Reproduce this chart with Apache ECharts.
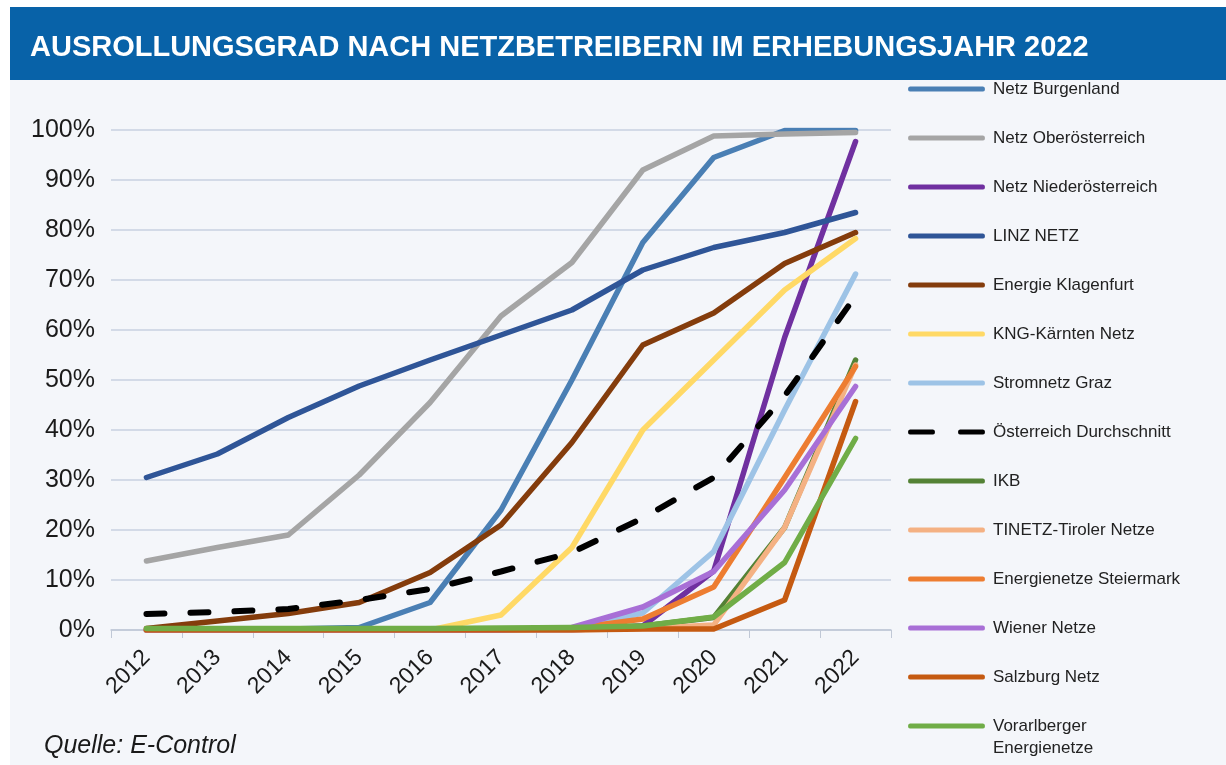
<!DOCTYPE html>
<html>
<head>
<meta charset="utf-8">
<script src="https://cdn.jsdelivr.net/npm/echarts@6/dist/echarts.min.js"></script>
<style>
html,body{margin:0;padding:0;background:#fff;}
#c{width:1226px;height:765px;}
</style>
</head>
<body>
<div id="c"></div>
<script>
const years = ['2012','2013','2014','2015','2016','2017','2018','2019','2020','2021','2022'];
const yTicks = [0,10,20,30,40,50,60,70,80,90,100];

const burgenland      = [0, 0, 0.2, 0.5, 5.5, 24, 50, 77.5, 94.5, 99.9, 99.9];
const oberoesterreich = [13.8, 16.5, 19, 31, 45.5, 62.8, 73.5, 92, 98.8, 99.2, 99.5];
const niederoest      = [0, 0, 0, 0, 0, 0, 0, 0.8, 11.8, 58.5, 97.7];
const linzNetz        = [30.5, 35.2, 42.5, 48.8, 54, 59, 64, 72, 76.5, 79.5, 83.5];
const klagenfurt      = [0.3, 1.8, 3.3, 5.5, 11.5, 21, 37.5, 57, 63.4, 73.3, 79.5];
const kng             = [0, 0, 0, 0, 0, 3, 16.5, 40, 54, 68, 78.3];
const graz            = [0, 0, 0, 0, 0, 0, 0.3, 3.4, 15.7, 44, 71.2];
const durchschnitt    = [3.2, 3.6, 4.2, 6, 8.2, 11.7, 15.5, 22.4, 30.5, 46.8, 66.8];
const ikb             = [0, 0, 0, 0, 0, 0, 0.3, 0.8, 2.5, 20.5, 54];
const tinetz          = [0, 0, 0, 0, 0, 0, 0, 0.3, 1, 20.5, 53];
const steiermark      = [0, 0, 0, 0, 0, 0, 0.3, 2.2, 8.6, 30.5, 52.7];
const wiener          = [0, 0, 0, 0, 0, 0, 0.5, 4.6, 11.7, 28, 48.7];
const salzburg        = [0, 0, 0, 0, 0, 0, 0, 0.2, 0.2, 6, 45.7];
const vorarlberg      = [0.3, 0.3, 0.3, 0.3, 0.3, 0.4, 0.5, 0.8, 2.6, 13.5, 38.3];

const seriesDefs = [
  ['Netz Burgenland', burgenland, '#4a7fb4', 'solid'],
  ['Netz Oberösterreich', oberoesterreich, '#a5a5a5', 'solid'],
  ['Netz Niederösterreich', niederoest, '#7030a0', 'solid'],
  ['LINZ NETZ', linzNetz, '#2f5597', 'solid'],
  ['Energie Klagenfurt', klagenfurt, '#843c0c', 'solid'],
  ['KNG-Kärnten Netz', kng, '#ffd966', 'solid'],
  ['Stromnetz Graz', graz, '#9dc3e6', 'solid'],
  ['Österreich Durchschnitt', durchschnitt, '#000000', 'dashed'],
  ['IKB', ikb, '#548235', 'solid'],
  ['TINETZ-Tiroler Netze', tinetz, '#f4b183', 'solid'],
  ['Energienetze Steiermark', steiermark, '#ed7d31', 'solid'],
  ['Wiener Netze', wiener, '#a86fd6', 'solid'],
  ['Salzburg Netz', salzburg, '#c55a11', 'solid'],
  ['Vorarlberger Energienetze', vorarlberg, '#70ad47', 'solid']
];

const FONT = "'Liberation Sans', Arial, sans-serif";
const SOLID_ICON = 'path://M2,0 H75 A2,2 0 0 1 75,4 H2 A2,2 0 0 1 2,0 Z';
const DASH_ICON = 'path://M2,0 H25 A2,2 0 0 1 25,4 H2 A2,2 0 0 1 2,0 Z M52,0 H75 A2,2 0 0 1 75,4 H52 A2,2 0 0 1 52,0 Z';

const chart = echarts.init(document.getElementById('c'), null, {renderer: 'canvas'});
chart.setOption({
  animation: false,
  backgroundColor: '#ffffff',
  graphic: [
    {type: 'rect', z: -10, shape: {x: 10, y: 7, width: 1216, height: 758}, style: {fill: '#f4f6fa'}},
    {type: 'rect', z: -5, shape: {x: 10, y: 7, width: 1216, height: 73}, style: {fill: '#0862a8'}},
    {type: 'text', left: 30, top: 33, style: {text: 'AUSROLLUNGSGRAD NACH NETZBETREIBERN IM ERHEBUNGSJAHR 2022', fill: '#ffffff', font: "bold 29px 'Liberation Sans Narrow', 'Liberation Sans', Arial, sans-serif"}},
    {type: 'text', left: 44, top: 734, style: {text: 'Quelle: E-Control', fill: '#1a1a1a', font: "italic 25px 'Liberation Sans', Arial, sans-serif"}},
    {type: 'text', left: 993, top: 740, style: {text: 'Energienetze', fill: '#222', font: "17px 'Liberation Sans', Arial, sans-serif"}}
  ],
  grid: {left: 111, right: 335, top: 130, bottom: 135, containLabel: false},
  legend: {
    orient: 'vertical',
    left: 908,
    top: 78,
    padding: 0,
    itemWidth: 77,
    itemHeight: 5,
    itemGap: 27,
    symbolKeepAspect: false,
    textStyle: {fontFamily: FONT, fontSize: 17, color: '#222', lineHeight: 22, padding: [0, 0, 0, 3]},
    formatter: function (n) { return n === 'Vorarlberger Energienetze' ? 'Vorarlberger' : n; },
    data: seriesDefs.map(d => ({name: d[0], icon: d[3] === 'dashed' ? DASH_ICON : SOLID_ICON}))
  },
  xAxis: {
    type: 'category',
    data: years,
    boundaryGap: true,
    axisLine: {lineStyle: {color: '#c0c8d6', width: 1.5}},
    axisTick: {show: true, length: 8, lineStyle: {color: '#c0c8d6'}},
    axisLabel: {rotate: 45, margin: 24, fontFamily: FONT, fontSize: 23, color: '#1a1a1a'}
  },
  yAxis: {
    type: 'value',
    min: 0, max: 100, interval: 10,
    axisLine: {show: false},
    axisTick: {show: false},
    splitLine: {lineStyle: {color: '#c8d0e0', width: 1.5}},
    axisLabel: {margin: 16, fontFamily: FONT, fontSize: 25, color: '#1a1a1a', formatter: v => yTicks.includes(v) ? v + '%' : ''}
  },
  series: seriesDefs.map(d => ({
    name: d[0],
    type: 'line',
    data: d[1],
    symbol: 'none',
    smooth: false,
    itemStyle: {color: d[2]},
    lineStyle: d[3] === 'dashed'
      ? {color: d[2], width: 6, type: [18, 26], cap: 'round'}
      : {color: d[2], width: 5.5, cap: 'round', join: 'round'}
  }))
});
</script>
</body>
</html>
